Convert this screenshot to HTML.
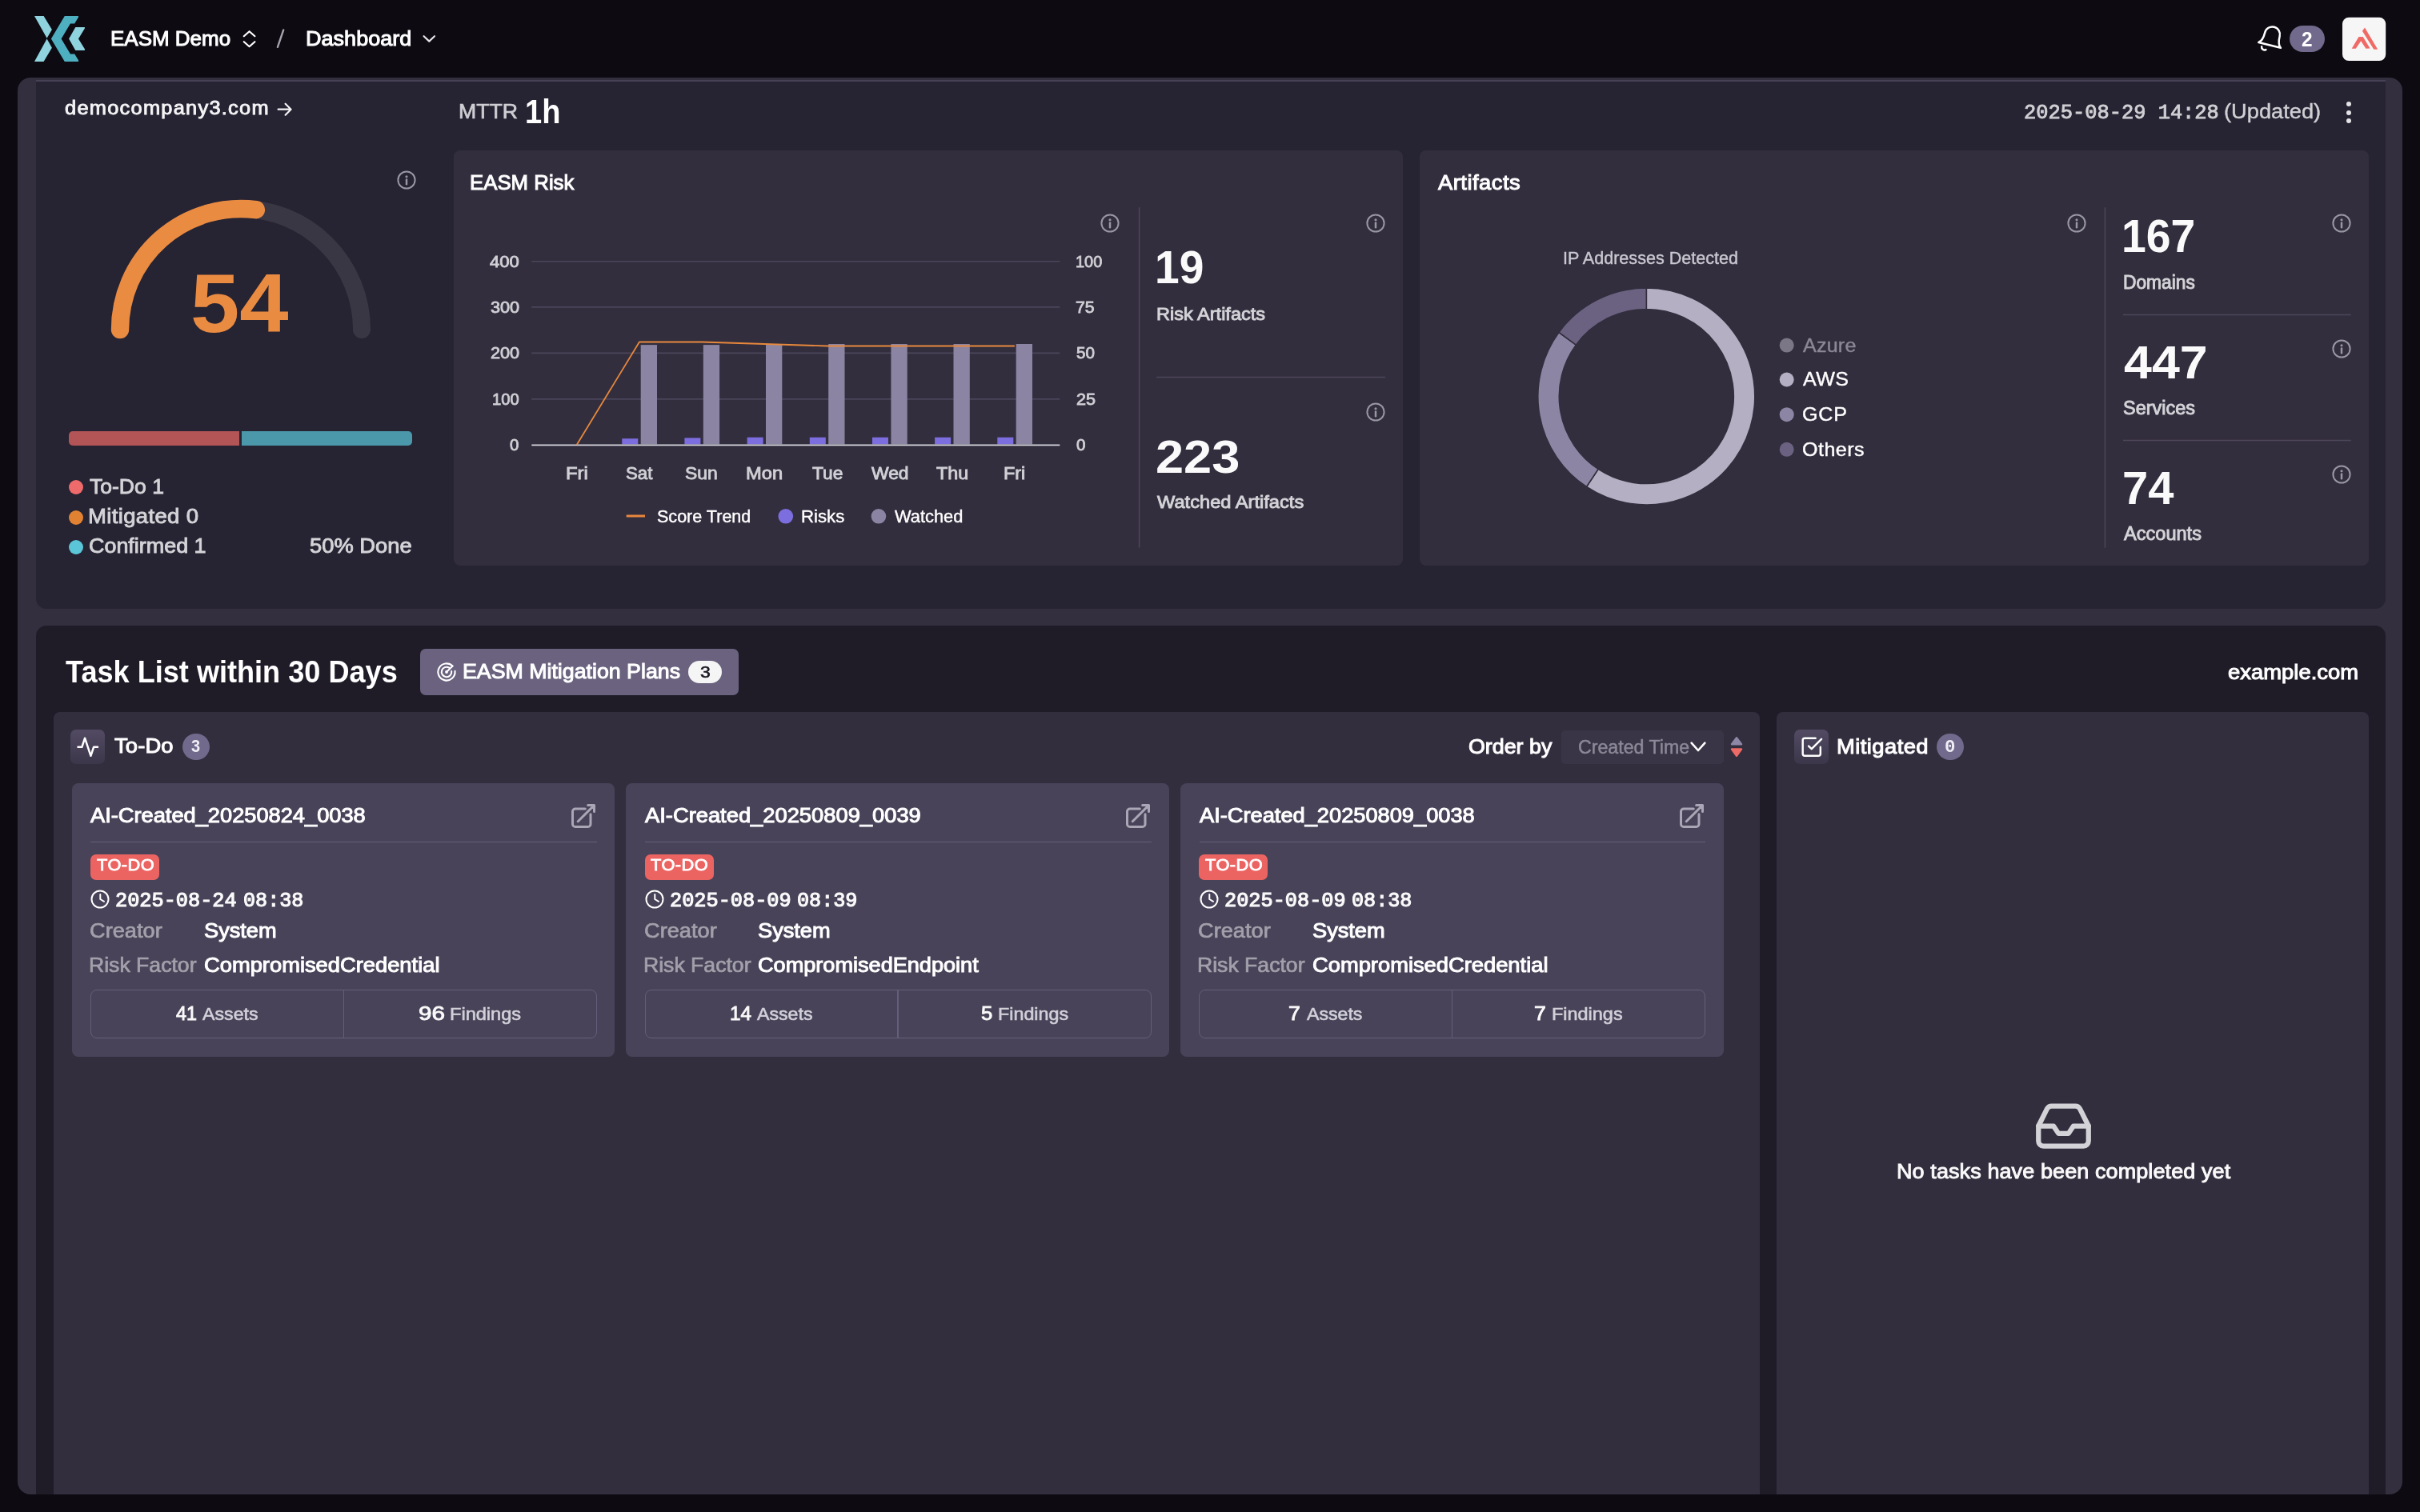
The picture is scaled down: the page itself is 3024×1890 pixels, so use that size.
<!DOCTYPE html>
<html lang="en"><head><meta charset="utf-8"><title>EASM Dashboard</title>
<style>
html,body{margin:0;padding:0;}
body{width:3024px;height:1890px;overflow:hidden;background:#0d0a12;position:relative;font-family:"Liberation Sans", sans-serif;}
.a{position:absolute;}
.t{position:absolute;white-space:nowrap;line-height:1;font-family:"Liberation Sans", sans-serif;}
svg{position:absolute;overflow:visible;}
</style></head><body>
<div class="a" style="left:22.00px;top:97.00px;width:2980.00px;height:1771.00px;background:#342f3e;border-radius:16px;"></div>
<div class="a" style="left:45.00px;top:100.00px;width:2936.00px;height:660.60px;background:#262332;border-radius:0 0 13px 13px;border-top:2px solid #464154;box-sizing:border-box;"></div>
<div class="a" style="left:45.00px;top:782.00px;width:2936.00px;height:1086.00px;background:#1f1c28;border-radius:13px 13px 0 0;"></div>
<div class="a" style="left:567.00px;top:188.00px;width:1186.20px;height:518.80px;background:#332e3e;border-radius:8px;"></div>
<div class="a" style="left:1773.90px;top:188.00px;width:1186.10px;height:518.80px;background:#332e3e;border-radius:8px;"></div>
<div class="a" style="left:66.70px;top:890.00px;width:2132.10px;height:978.00px;background:#332e3e;border-radius:8px 8px 0 0;"></div>
<div class="a" style="left:2220.00px;top:890.00px;width:740.00px;height:978.00px;background:#332e3e;border-radius:8px 8px 0 0;"></div>
<svg width="3024" height="100" style="left:0;top:0">
<polygon fill="#8ed3de" points="43.0,20.1 54.6,20.1 64.9,37.0 58.6,47.7"/>
<polygon fill="#8ed3de" points="58.6,48.6 64.9,59.7 54.6,76.9 43.0,76.9"/>
<polygon fill="#4eafc0" points="80.8,20.1 98.0,20.1 98.0,21.4 93.2,29.6 87.9,29.6 76.6,48.4 87.9,67.4 93.2,67.4 98.0,75.3 98.0,76.9 80.8,76.9 63.9,48.4"/>
<polygon fill="#8ed3de" points="94.3,34.1 105.9,34.1 105.9,35.4 98.0,48.4 105.9,61.3 105.9,62.9 94.3,62.9 86.1,48.4"/>
<path d="M304.8 45.2 L311.6 39.2 L318.4 45.2 M304.8 52.2 L311.6 58.2 L318.4 52.2" fill="none" stroke="#fff" stroke-width="2.2" stroke-linecap="round" stroke-linejoin="round"/>
<path d="M346.9 58.8 L354.2 37.5" stroke="#a3a1ab" stroke-width="2.4" stroke-linecap="round"/>
<path d="M529.6 45.2 L536.3 51.6 L543 45.2" fill="none" stroke="#e4e4e7" stroke-width="2.2" stroke-linecap="round" stroke-linejoin="round"/>
<g transform="translate(2836.1 56.4) rotate(14)" fill="none" stroke="#fff" stroke-width="2.5" stroke-linecap="round" stroke-linejoin="round"><path d="M-14.2 0 L14.2 0 C10.9 -2.4 9.5 -6.6 9.5 -13.9 A9.5 9.5 0 0 0 -9.5 -13.9 C-9.5 -6.6 -10.9 -2.4 -14.2 0 Z"/><path d="M-9.2 4.2 A3.6 3.6 0 0 0 -3.2 6.6"/></g>
<rect x="2927" y="21.8" width="54.2" height="54.3" rx="8" fill="#f6f6f6"/>
<polygon fill="#ef6a66" points="2951.9,38.7 2955.0,34.6 2971.2,61.7 2966.3,61.7"/>
<polygon fill="#ef6a66" points="2938.7,60.8 2947.5,46.0 2952.7,46.0 2961.6,60.4 2956.4,60.8 2950.2,51.2 2943.8,60.8"/>
</svg>
<div class="a" style="left:2861.00px;top:31.90px;width:44.10px;height:33.10px;background:#716a8c;border-radius:17px;"></div>
<svg width="40" height="30" style="left:340px;top:122px"><path d="M7.6 14.7 H23.4 M16.6 7.7 L23.6 14.7 L16.6 21.7" fill="none" stroke="#f4f4f5" stroke-width="2.2" stroke-linecap="round" stroke-linejoin="round"/></svg>
<div class="a" style="left:2932.00px;top:127.00px;width:6.00px;height:6.00px;background:#e4e4e7;border-radius:50%;"></div>
<div class="a" style="left:2932.00px;top:137.80px;width:6.00px;height:6.00px;background:#e4e4e7;border-radius:50%;"></div>
<div class="a" style="left:2932.00px;top:148.40px;width:6.00px;height:6.00px;background:#e4e4e7;border-radius:50%;"></div>
<svg width="560" height="300" style="left:0;top:200px" viewBox="0 200 560 300"><path d="M150 412 A151 151 0 0 1 452 412" fill="none" stroke="#3a3745" stroke-width="22" stroke-linecap="round"/><path d="M150 412 A151 151 0 0 1 319.93 262.19" fill="none" stroke="#ea8b42" stroke-width="22.4" stroke-linecap="round"/></svg>
<div class="a" style="left:85.80px;top:538.90px;width:213.30px;height:18.30px;background:#b35457;border-radius:5px 0 0 5px;"></div>
<div class="a" style="left:301.70px;top:538.90px;width:213.60px;height:18.30px;background:#4b98aa;border-radius:0 5px 5px 0;"></div>
<div class="a" style="left:86.00px;top:600.00px;width:18.00px;height:18.00px;background:#ef6b6b;border-radius:50%;"></div>
<div class="a" style="left:86.00px;top:637.80px;width:18.00px;height:18.00px;background:#e18233;border-radius:50%;"></div>
<div class="a" style="left:86.00px;top:675.10px;width:18.00px;height:18.00px;background:#5bc6d8;border-radius:50%;"></div>
<svg width="28" height="28" style="left:493.5px;top:210.5px" viewBox="-14 -14 28 28"><circle r="10.6" fill="none" stroke="#9997a4" stroke-width="2"/><circle cx="0" cy="-4.3" r="1.55" fill="#9997a4"/><path d="M0 -0.6 V5.3" stroke="#9997a4" stroke-width="2.5" stroke-linecap="round"/></svg>
<svg width="28" height="28" style="left:1373.0px;top:264.6px" viewBox="-14 -14 28 28"><circle r="10.6" fill="none" stroke="#9997a4" stroke-width="2"/><circle cx="0" cy="-4.3" r="1.55" fill="#9997a4"/><path d="M0 -0.6 V5.3" stroke="#9997a4" stroke-width="2.5" stroke-linecap="round"/></svg>
<svg width="28" height="28" style="left:1704.6px;top:264.6px" viewBox="-14 -14 28 28"><circle r="10.6" fill="none" stroke="#9997a4" stroke-width="2"/><circle cx="0" cy="-4.3" r="1.55" fill="#9997a4"/><path d="M0 -0.6 V5.3" stroke="#9997a4" stroke-width="2.5" stroke-linecap="round"/></svg>
<svg width="28" height="28" style="left:1704.6px;top:500.6px" viewBox="-14 -14 28 28"><circle r="10.6" fill="none" stroke="#9997a4" stroke-width="2"/><circle cx="0" cy="-4.3" r="1.55" fill="#9997a4"/><path d="M0 -0.6 V5.3" stroke="#9997a4" stroke-width="2.5" stroke-linecap="round"/></svg>
<svg width="28" height="28" style="left:2580.5px;top:264.5px" viewBox="-14 -14 28 28"><circle r="10.6" fill="none" stroke="#9997a4" stroke-width="2"/><circle cx="0" cy="-4.3" r="1.55" fill="#9997a4"/><path d="M0 -0.6 V5.3" stroke="#9997a4" stroke-width="2.5" stroke-linecap="round"/></svg>
<svg width="28" height="28" style="left:2911.5px;top:264.5px" viewBox="-14 -14 28 28"><circle r="10.6" fill="none" stroke="#9997a4" stroke-width="2"/><circle cx="0" cy="-4.3" r="1.55" fill="#9997a4"/><path d="M0 -0.6 V5.3" stroke="#9997a4" stroke-width="2.5" stroke-linecap="round"/></svg>
<svg width="28" height="28" style="left:2911.5px;top:421.7px" viewBox="-14 -14 28 28"><circle r="10.6" fill="none" stroke="#9997a4" stroke-width="2"/><circle cx="0" cy="-4.3" r="1.55" fill="#9997a4"/><path d="M0 -0.6 V5.3" stroke="#9997a4" stroke-width="2.5" stroke-linecap="round"/></svg>
<svg width="28" height="28" style="left:2911.5px;top:578.9px" viewBox="-14 -14 28 28"><circle r="10.6" fill="none" stroke="#9997a4" stroke-width="2"/><circle cx="0" cy="-4.3" r="1.55" fill="#9997a4"/><path d="M0 -0.6 V5.3" stroke="#9997a4" stroke-width="2.5" stroke-linecap="round"/></svg>
<svg width="3024" height="760" style="left:0;top:0">
<path d="M664.3 326.8 H1324.3" stroke="#4a4559" stroke-width="1.6"/>
<path d="M664.3 383.9 H1324.3" stroke="#4a4559" stroke-width="1.6"/>
<path d="M664.3 441.4 H1324.3" stroke="#4a4559" stroke-width="1.6"/>
<path d="M664.3 498.9 H1324.3" stroke="#4a4559" stroke-width="1.6"/>
<rect x="777.3" y="548.2" width="20" height="7.2" fill="#7d6ee0"/>
<rect x="800.7" y="431.1" width="20.3" height="124.3" fill="#8c84a3"/>
<rect x="855.4" y="547.4" width="20" height="8.0" fill="#7d6ee0"/>
<rect x="878.8" y="431.1" width="20.3" height="124.3" fill="#8c84a3"/>
<rect x="933.6" y="546.7" width="20" height="8.7" fill="#7d6ee0"/>
<rect x="957.0" y="430" width="20.3" height="125.4" fill="#8c84a3"/>
<rect x="1011.8" y="546.7" width="20" height="8.7" fill="#7d6ee0"/>
<rect x="1035.2" y="430" width="20.3" height="125.4" fill="#8c84a3"/>
<rect x="1090.0" y="546.7" width="20" height="8.7" fill="#7d6ee0"/>
<rect x="1113.4" y="430" width="20.3" height="125.4" fill="#8c84a3"/>
<rect x="1168.1" y="546.7" width="20" height="8.7" fill="#7d6ee0"/>
<rect x="1191.5" y="430" width="20.3" height="125.4" fill="#8c84a3"/>
<rect x="1246.3" y="546.7" width="20" height="8.7" fill="#7d6ee0"/>
<rect x="1269.7" y="430" width="20.3" height="125.4" fill="#8c84a3"/>
<path d="M664.3 556.3 H1324.3" stroke="#d6d6db" stroke-width="1.7"/>
<path d="M720.7 556 L798.9 427.5 L877.0 427.5 L955.2 430 L1033.4 432.5 L1111.6 432.5 L1189.7 432.5 L1267.9 432.5" fill="none" stroke="#e8883c" stroke-width="1.8" stroke-linejoin="round"/>
<path d="M782.7 645 H806" stroke="#e8883c" stroke-width="3"/>
<circle cx="981.8" cy="645.3" r="9.3" fill="#7d6ee0"/><circle cx="1097.9" cy="645.3" r="9.3" fill="#8c84a3"/>
<path d="M1423.6 259.3 V684.6" stroke="#4b4659" stroke-width="1.5"/>
<path d="M1445 471.4 H1731" stroke="#4b4659" stroke-width="1.5"/>
<path d="M2630.4 259.3 V684.8" stroke="#4b4659" stroke-width="1.5"/>
<path d="M2653 393.6 H2937.8 M2653 550.4 H2937.8" stroke="#4b4659" stroke-width="1.5"/>
<path d="M2057.30 360.00 A135.5 135.5 0 1 1 1982.51 608.49 L1997.14 586.39 A109 109 0 1 0 2057.30 386.50 Z" fill="#b5afc3" stroke="#332e3e" stroke-width="1.6"/>
<path d="M1982.51 608.49 A135.5 135.5 0 0 1 1947.96 415.47 L1969.34 431.12 A109 109 0 0 0 1997.14 586.39 Z" fill="#8d85a4" stroke="#332e3e" stroke-width="1.6"/>
<path d="M1947.96 415.47 A135.5 135.5 0 0 1 2057.30 360.00 L2057.30 386.50 A109 109 0 0 0 1969.34 431.12 Z" fill="#6a6280" stroke="#332e3e" stroke-width="1.6"/>
<circle cx="2232.7" cy="431.6" r="9" fill="#7b7787"/>
<circle cx="2232.7" cy="474.5" r="9" fill="#b5afc3"/>
<circle cx="2232.7" cy="518.2" r="9" fill="#8d85a4"/>
<circle cx="2232.7" cy="561.8" r="9" fill="#6a6280"/>
</svg>
<div class="a" style="left:525.20px;top:811.30px;width:397.80px;height:57.30px;background:#6a627e;border-radius:7px;"></div>
<svg width="30" height="30" style="left:543.2px;top:824.5px" viewBox="-15 -15 30 30" fill="none" stroke="#fff" stroke-width="2.1" stroke-linecap="round"><path d="M7.5 -7.5 A10.6 10.6 0 1 0 10.54 -1.1"/><path d="M3.2 -5.4 A6.25 6.25 0 1 0 6.2 -0.9"/><circle r="1.9" fill="#fff" stroke="none"/><path d="M0 0 L7.5 -7.5"/></svg>
<div class="a" style="left:860.20px;top:826.00px;width:41.60px;height:28.10px;background:#f5f5f6;border-radius:14px;"></div>
<div class="a" style="left:88.10px;top:911.90px;width:43.00px;height:42.70px;background:#463f56;border-radius:7px;background:linear-gradient(180deg,#524b63 0%,#3c364a 100%);"></div>
<div class="a" style="left:2242.00px;top:911.90px;width:43.10px;height:42.90px;background:#463f56;border-radius:7px;background:linear-gradient(180deg,#524b63 0%,#3c364a 100%);"></div>
<svg width="29.5" height="29.5" style="left:94.85px;top:918.5px" viewBox="0 0 24 24" fill="none" stroke="#fff" stroke-width="2" stroke-linecap="round" stroke-linejoin="round"><polyline points="22 12 18 12 15 21 9 3 6 12 2 12"/></svg>
<svg width="29.5" height="29.5" style="left:2248.6px;top:919.2px" viewBox="0 0 24 24" fill="none" stroke="#fff" stroke-width="2" stroke-linecap="round" stroke-linejoin="round"><polyline points="9 11 12 14 22 4"/><path d="M21 12v7a2 2 0 0 1-2 2H5a2 2 0 0 1-2-2V5a2 2 0 0 1 2-2h11"/></svg>
<div class="a" style="left:227.80px;top:916.60px;width:34.20px;height:33.80px;background:#716a8c;border-radius:50%;"></div>
<div class="a" style="left:2420.30px;top:916.70px;width:33.50px;height:33.50px;background:#716a8c;border-radius:50%;"></div>
<div class="a" style="left:1951.10px;top:913.20px;width:202.90px;height:41.40px;background:#3a3546;border-radius:5px;"></div>
<svg width="80" height="50" style="left:2100px;top:905px" viewBox="2100 905 80 50"><path d="M2113.6 928.6 L2122 938 L2130.4 928.6" fill="none" stroke="#fff" stroke-width="2.6" stroke-linecap="round" stroke-linejoin="round"/><path d="M2170 922.3 L2176 930.2 H2164 Z" fill="#8e87a6" stroke="#8e87a6" stroke-width="2.4" stroke-linejoin="round"/><path d="M2170 944.7 L2176 936.5 H2164 Z" fill="#ee6a66" stroke="#ee6a66" stroke-width="2.4" stroke-linejoin="round"/></svg>
<div class="a" style="left:89.80px;top:978.80px;width:678.60px;height:342.00px;background:#484358;border-radius:8px;"></div>
<div class="a" style="left:113.30px;top:1051.80px;width:632.70px;height:1.50px;background:#645d7b;"></div>
<div class="a" style="left:113.00px;top:1068.10px;width:85.90px;height:31.80px;background:#ec6462;border-radius:7px;"></div>
<svg width="36" height="36" style="left:711.00px;top:1002px" viewBox="0 0 24 24" fill="none" stroke="#aaa6b5" stroke-width="2" stroke-linecap="round" stroke-linejoin="round"><path d="M13.5 6H5.25A2.25 2.25 0 003 8.25v10.5A2.25 2.25 0 005.25 21h10.5A2.25 2.25 0 0018 18.75V10.5m-10.5 6L21 3m0 0h-5.25M21 3v5.25"/></svg>
<svg width="28" height="28" style="left:111.40px;top:1109.5px" viewBox="-14 -14 28 28" fill="none" stroke="#fff" stroke-width="2" stroke-linecap="round" stroke-linejoin="round"><circle r="10.5"/><path d="M0.3 -6 V0 L5 2.8"/></svg>
<div class="a" style="left:113.00px;top:1237.3px;width:632.9px;height:60.4px;box-sizing:border-box;border:1.5px solid #645d7b;border-radius:8px"></div>
<div class="a" style="left:428.60px;top:1237.30px;width:1.50px;height:60.40px;background:#645d7b;"></div>
<div class="a" style="left:782.45px;top:978.80px;width:678.60px;height:342.00px;background:#484358;border-radius:8px;"></div>
<div class="a" style="left:805.95px;top:1051.80px;width:632.70px;height:1.50px;background:#645d7b;"></div>
<div class="a" style="left:805.65px;top:1068.10px;width:85.90px;height:31.80px;background:#ec6462;border-radius:7px;"></div>
<svg width="36" height="36" style="left:1403.65px;top:1002px" viewBox="0 0 24 24" fill="none" stroke="#aaa6b5" stroke-width="2" stroke-linecap="round" stroke-linejoin="round"><path d="M13.5 6H5.25A2.25 2.25 0 003 8.25v10.5A2.25 2.25 0 005.25 21h10.5A2.25 2.25 0 0018 18.75V10.5m-10.5 6L21 3m0 0h-5.25M21 3v5.25"/></svg>
<svg width="28" height="28" style="left:804.05px;top:1109.5px" viewBox="-14 -14 28 28" fill="none" stroke="#fff" stroke-width="2" stroke-linecap="round" stroke-linejoin="round"><circle r="10.5"/><path d="M0.3 -6 V0 L5 2.8"/></svg>
<div class="a" style="left:805.65px;top:1237.3px;width:632.9px;height:60.4px;box-sizing:border-box;border:1.5px solid #645d7b;border-radius:8px"></div>
<div class="a" style="left:1121.25px;top:1237.30px;width:1.50px;height:60.40px;background:#645d7b;"></div>
<div class="a" style="left:1475.10px;top:978.80px;width:678.60px;height:342.00px;background:#484358;border-radius:8px;"></div>
<div class="a" style="left:1498.60px;top:1051.80px;width:632.70px;height:1.50px;background:#645d7b;"></div>
<div class="a" style="left:1498.30px;top:1068.10px;width:85.90px;height:31.80px;background:#ec6462;border-radius:7px;"></div>
<svg width="36" height="36" style="left:2096.30px;top:1002px" viewBox="0 0 24 24" fill="none" stroke="#aaa6b5" stroke-width="2" stroke-linecap="round" stroke-linejoin="round"><path d="M13.5 6H5.25A2.25 2.25 0 003 8.25v10.5A2.25 2.25 0 005.25 21h10.5A2.25 2.25 0 0018 18.75V10.5m-10.5 6L21 3m0 0h-5.25M21 3v5.25"/></svg>
<svg width="28" height="28" style="left:1496.70px;top:1109.5px" viewBox="-14 -14 28 28" fill="none" stroke="#fff" stroke-width="2" stroke-linecap="round" stroke-linejoin="round"><circle r="10.5"/><path d="M0.3 -6 V0 L5 2.8"/></svg>
<div class="a" style="left:1498.30px;top:1237.3px;width:632.9px;height:60.4px;box-sizing:border-box;border:1.5px solid #645d7b;border-radius:8px"></div>
<div class="a" style="left:1813.90px;top:1237.30px;width:1.50px;height:60.40px;background:#645d7b;"></div>
<svg width="75" height="75" style="left:2541.1px;top:1369.8px" viewBox="0 0 24 24" fill="none" stroke="#d2d2d7" stroke-width="2" stroke-linecap="round" stroke-linejoin="round"><polyline points="22 12 16 12 14 15 10 15 8 12 2 12"/><path d="M5.45 5.11 2 12v6a2 2 0 0 0 2 2h16a2 2 0 0 0 2-2v-6l-3.45-6.89A2 2 0 0 0 16.76 4H7.24a2 2 0 0 0-1.79 1.11z"/></svg>
<div class="a" style="left:0;top:0;width:3024px;height:1890px;will-change:transform">
<div class="t" style="left:137.57px;top:35.80px;font-size:25.57px;color:#ffffff;-webkit-text-stroke:1.0px #ffffff;transform:scaleX(1.0164);transform-origin:0 0;">EASM Demo</div>
<div class="t" style="left:381.58px;top:35.80px;font-size:25.57px;color:#ffffff;-webkit-text-stroke:1.0px #ffffff;transform:scaleX(1.0580);transform-origin:0 0;">Dashboard</div>
<div class="t" style="left:2876.40px;top:35.90px;font-size:26.5px;color:#ffffff;font-weight:700;transform:scaleX(0.9214);transform-origin:0 0;">2</div>
<div class="t" style="left:80.68px;top:123.95px;font-size:23.71px;color:#f4f4f5;-webkit-text-stroke:0.9px #f4f4f5;letter-spacing:1.193px;transform:scaleX(1.0700);transform-origin:0 0;">democompany3.com</div>
<div class="t" style="left:573.32px;top:127.25px;font-size:25.0px;color:#cdcdd2;-webkit-text-stroke:0.7px #cdcdd2;transform:scaleX(1.0653);transform-origin:0 0;">MTTR</div>
<div class="t" style="left:656.39px;top:119.40px;font-size:42.0px;color:#ffffff;font-weight:700;transform:scaleX(0.9061);transform-origin:0 0;">1h</div>
<div class="t" style="left:2529.08px;top:127.85px;font-size:26.21px;color:#d0d0d4;font-family:'Liberation Mono',monospace;-webkit-text-stroke:0.9px #d0d0d4;transform:scaleX(0.9692);transform-origin:0 0;">2025-08-29 14:28</div>
<div class="t" style="left:2778.83px;top:127.10px;font-size:25.93px;color:#d0d0d4;-webkit-text-stroke:0.4px #d0d0d4;transform:scaleX(1.0514);transform-origin:0 0;">(Updated)</div>
<div class="t" style="left:237.79px;top:328.30px;font-size:103.0px;color:#ea8b42;font-weight:700;transform:scaleX(1.0693);transform-origin:0 0;">54</div>
<div class="t" style="left:112.05px;top:595.55px;font-size:25.71px;color:#d4d4d8;-webkit-text-stroke:0.9px #d4d4d8;transform:scaleX(1.0323);transform-origin:0 0;">To-Do 1</div>
<div class="t" style="left:109.91px;top:633.25px;font-size:25.71px;color:#d4d4d8;-webkit-text-stroke:0.9px #d4d4d8;letter-spacing:0.320px;transform:scaleX(1.0700);transform-origin:0 0;">Mitigated 0</div>
<div class="t" style="left:111.00px;top:670.45px;font-size:25.71px;color:#d4d4d8;-webkit-text-stroke:0.9px #d4d4d8;transform:scaleX(1.0468);transform-origin:0 0;">Confirmed 1</div>
<div class="t" style="left:386.99px;top:670.45px;font-size:25.71px;color:#d4d4d8;-webkit-text-stroke:0.9px #d4d4d8;transform:scaleX(1.0629);transform-origin:0 0;">50% Done</div>
<div class="t" style="left:586.68px;top:215.60px;font-size:25.57px;color:#ffffff;-webkit-text-stroke:1.0px #ffffff;transform:scaleX(1.0089);transform-origin:0 0;">EASM Risk</div>
<div class="t" style="left:611.80px;top:317.60px;font-size:19.36px;color:#cfcfd4;-webkit-text-stroke:0.8px #cfcfd4;transform:scaleX(1.1404);transform-origin:0 0;">400</div>
<div class="t" style="left:612.50px;top:374.70px;font-size:19.36px;color:#cfcfd4;-webkit-text-stroke:0.8px #cfcfd4;transform:scaleX(1.1188);transform-origin:0 0;">300</div>
<div class="t" style="left:612.50px;top:432.20px;font-size:19.36px;color:#cfcfd4;-webkit-text-stroke:0.8px #cfcfd4;transform:scaleX(1.1188);transform-origin:0 0;">200</div>
<div class="t" style="left:614.96px;top:489.70px;font-size:19.36px;color:#cfcfd4;-webkit-text-stroke:0.8px #cfcfd4;transform:scaleX(1.0433);transform-origin:0 0;">100</div>
<div class="t" style="left:637.30px;top:546.90px;font-size:19.36px;color:#cfcfd4;-webkit-text-stroke:0.8px #cfcfd4;transform:scaleX(1.0545);transform-origin:0 0;">0</div>
<div class="t" style="left:1343.97px;top:317.60px;font-size:19.36px;color:#cfcfd4;-webkit-text-stroke:0.8px #cfcfd4;transform:scaleX(1.0275);transform-origin:0 0;">100</div>
<div class="t" style="left:1343.90px;top:374.70px;font-size:19.36px;color:#cfcfd4;-webkit-text-stroke:0.8px #cfcfd4;transform:scaleX(1.0978);transform-origin:0 0;">75</div>
<div class="t" style="left:1345.00px;top:432.20px;font-size:19.36px;color:#cfcfd4;-webkit-text-stroke:0.8px #cfcfd4;transform:scaleX(1.0658);transform-origin:0 0;">50</div>
<div class="t" style="left:1345.00px;top:489.70px;font-size:19.36px;color:#cfcfd4;-webkit-text-stroke:0.8px #cfcfd4;transform:scaleX(1.1172);transform-origin:0 0;">25</div>
<div class="t" style="left:1345.00px;top:546.90px;font-size:19.36px;color:#cfcfd4;-webkit-text-stroke:0.8px #cfcfd4;transform:scaleX(1.0636);transform-origin:0 0;">0</div>
<div class="t" style="left:707.10px;top:580.45px;font-size:22.71px;color:#d0d0d5;-webkit-text-stroke:0.9px #d0d0d5;transform:scaleX(1.0521);transform-origin:0 0;">Fri</div>
<div class="t" style="left:781.77px;top:580.45px;font-size:22.71px;color:#d0d0d5;-webkit-text-stroke:0.9px #d0d0d5;transform:scaleX(0.9772);transform-origin:0 0;">Sat</div>
<div class="t" style="left:856.34px;top:580.45px;font-size:22.71px;color:#d0d0d5;-webkit-text-stroke:0.9px #d0d0d5;transform:scaleX(1.0085);transform-origin:0 0;">Sun</div>
<div class="t" style="left:932.21px;top:580.45px;font-size:22.71px;color:#d0d0d5;-webkit-text-stroke:0.9px #d0d0d5;transform:scaleX(1.0438);transform-origin:0 0;">Mon</div>
<div class="t" style="left:1014.65px;top:580.45px;font-size:22.71px;color:#d0d0d5;-webkit-text-stroke:0.9px #d0d0d5;transform:scaleX(1.0013);transform-origin:0 0;">Tue</div>
<div class="t" style="left:1088.65px;top:580.45px;font-size:22.71px;color:#d0d0d5;-webkit-text-stroke:0.9px #d0d0d5;transform:scaleX(1.0056);transform-origin:0 0;">Wed</div>
<div class="t" style="left:1170.05px;top:580.45px;font-size:22.71px;color:#d0d0d5;-webkit-text-stroke:0.9px #d0d0d5;transform:scaleX(1.0261);transform-origin:0 0;">Thu</div>
<div class="t" style="left:1254.42px;top:580.45px;font-size:22.71px;color:#d0d0d5;-webkit-text-stroke:0.9px #d0d0d5;transform:scaleX(1.0316);transform-origin:0 0;">Fri</div>
<div class="t" style="left:821.48px;top:636.00px;font-size:21.43px;color:#ffffff;-webkit-text-stroke:0.4px #ffffff;transform:scaleX(1.0053);transform-origin:0 0;">Score Trend</div>
<div class="t" style="left:1000.84px;top:636.00px;font-size:21.43px;color:#ffffff;-webkit-text-stroke:0.4px #ffffff;transform:scaleX(1.0361);transform-origin:0 0;">Risks</div>
<div class="t" style="left:1117.78px;top:636.00px;font-size:21.43px;color:#ffffff;-webkit-text-stroke:0.4px #ffffff;transform:scaleX(1.0187);transform-origin:0 0;">Watched</div>
<div class="t" style="left:1443.13px;top:306.30px;font-size:57.7px;color:#fafafa;font-weight:700;transform:scaleX(0.9563);transform-origin:0 0;">19</div>
<div class="t" style="left:1445.01px;top:380.95px;font-size:22.71px;color:#d4d4d8;-webkit-text-stroke:0.9px #d4d4d8;transform:scaleX(1.0374);transform-origin:0 0;">Risk Artifacts</div>
<div class="t" style="left:1443.81px;top:542.70px;font-size:57.7px;color:#fafafa;font-weight:700;transform:scaleX(1.0937);transform-origin:0 0;">223</div>
<div class="t" style="left:1446.05px;top:615.95px;font-size:22.71px;color:#d4d4d8;-webkit-text-stroke:0.9px #d4d4d8;transform:scaleX(1.0424);transform-origin:0 0;">Watched Artifacts</div>
<div class="t" style="left:1796.50px;top:216.00px;font-size:25.57px;color:#ffffff;-webkit-text-stroke:1.0px #ffffff;letter-spacing:0.461px;transform:scaleX(1.0700);transform-origin:0 0;">Artifacts</div>
<div class="t" style="left:1953.37px;top:312.60px;font-size:21.43px;color:#c9c8d0;-webkit-text-stroke:0.4px #c9c8d0;transform:scaleX(1.0069);transform-origin:0 0;">IP Addresses Detected</div>
<div class="t" style="left:2252.58px;top:420.80px;font-size:23.43px;color:#8b8895;-webkit-text-stroke:0.4px #8b8895;letter-spacing:0.213px;transform:scaleX(1.0700);transform-origin:0 0;">Azure</div>
<div class="t" style="left:2252.58px;top:463.30px;font-size:23.43px;color:#ffffff;-webkit-text-stroke:0.4px #ffffff;letter-spacing:0.323px;transform:scaleX(1.0700);transform-origin:0 0;">AWS</div>
<div class="t" style="left:2251.51px;top:507.30px;font-size:23.43px;color:#ffffff;-webkit-text-stroke:0.4px #ffffff;letter-spacing:0.798px;transform:scaleX(1.0700);transform-origin:0 0;">GCP</div>
<div class="t" style="left:2251.51px;top:550.60px;font-size:23.43px;color:#ffffff;-webkit-text-stroke:0.4px #ffffff;letter-spacing:0.449px;transform:scaleX(1.0700);transform-origin:0 0;">Others</div>
<div class="t" style="left:2650.72px;top:267.00px;font-size:57.7px;color:#fafafa;font-weight:700;transform:scaleX(0.9587);transform-origin:0 0;">167</div>
<div class="t" style="left:2652.67px;top:341.95px;font-size:23.21px;color:#d4d4d8;-webkit-text-stroke:0.9px #d4d4d8;transform:scaleX(0.9816);transform-origin:0 0;">Domains</div>
<div class="t" style="left:2653.60px;top:424.60px;font-size:57.7px;color:#fafafa;font-weight:700;transform:scaleX(1.0874);transform-origin:0 0;">447</div>
<div class="t" style="left:2652.64px;top:499.15px;font-size:23.21px;color:#d4d4d8;-webkit-text-stroke:0.9px #d4d4d8;transform:scaleX(1.0106);transform-origin:0 0;">Services</div>
<div class="t" style="left:2651.59px;top:581.80px;font-size:57.7px;color:#fafafa;font-weight:700;transform:scaleX(1.0035);transform-origin:0 0;">74</div>
<div class="t" style="left:2653.65px;top:655.55px;font-size:23.21px;color:#d4d4d8;-webkit-text-stroke:0.9px #d4d4d8;transform:scaleX(1.0154);transform-origin:0 0;">Accounts</div>
<div class="t" style="left:81.90px;top:820.10px;font-size:39.0px;color:#ffffff;font-weight:700;transform:scaleX(0.9259);transform-origin:0 0;">Task List within 30 Days</div>
<div class="t" style="left:577.51px;top:826.70px;font-size:25.57px;color:#ffffff;-webkit-text-stroke:1.0px #ffffff;transform:scaleX(1.0462);transform-origin:0 0;">EASM Mitigation Plans</div>
<div class="t" style="left:874.80px;top:830.90px;font-size:19.44px;color:#1b1823;-webkit-text-stroke:0.6px #1b1823;transform:scaleX(1.1800);transform-origin:0 0;">3</div>
<div class="t" style="left:2783.53px;top:827.50px;font-size:25.57px;color:#ffffff;-webkit-text-stroke:1.0px #ffffff;letter-spacing:0.037px;transform:scaleX(1.0700);transform-origin:0 0;">example.com</div>
<div class="t" style="left:143.30px;top:920.40px;font-size:25.57px;color:#ffffff;-webkit-text-stroke:1.0px #ffffff;letter-spacing:0.134px;transform:scaleX(1.0700);transform-origin:0 0;">To-Do</div>
<div class="t" style="left:239.20px;top:922.20px;font-size:22.0px;color:#f0eef5;font-weight:700;transform:scaleX(0.9083);transform-origin:0 0;">3</div>
<div class="t" style="left:1834.85px;top:921.00px;font-size:25.57px;color:#ffffff;-webkit-text-stroke:1.0px #ffffff;transform:scaleX(1.0491);transform-origin:0 0;">Order by</div>
<div class="t" style="left:1971.59px;top:921.75px;font-size:24.29px;color:#8b8898;-webkit-text-stroke:0.5px #8b8898;transform:scaleX(0.9552);transform-origin:0 0;">Created Time</div>
<div class="t" style="left:2294.76px;top:921.30px;font-size:25.57px;color:#ffffff;-webkit-text-stroke:1.0px #ffffff;letter-spacing:0.416px;transform:scaleX(1.0700);transform-origin:0 0;">Mitigated</div>
<div class="t" style="left:2430.08px;top:924.30px;font-size:22.0px;color:#f0eef5;font-weight:700;font-family:'Liberation Mono',monospace;transform:scaleX(1.0182);transform-origin:0 0;">0</div>
<div class="t" style="left:2369.81px;top:1451.75px;font-size:25.21px;color:#fafafa;-webkit-text-stroke:0.9px #fafafa;letter-spacing:0.103px;transform:scaleX(1.0700);transform-origin:0 0;">No tasks have been completed yet</div>
<div class="t" style="left:113.40px;top:1006.90px;font-size:25.57px;color:#ffffff;-webkit-text-stroke:1.0px #ffffff;transform:scaleX(1.0654);transform-origin:0 0;">AI-Created_20250824_0038</div>
<div class="t" style="left:120.50px;top:1071.40px;font-size:20.36px;color:#ffffff;-webkit-text-stroke:0.8px #ffffff;letter-spacing:0.469px;transform:scaleX(1.0700);transform-origin:0 0;">TO-DO</div>
<div class="t" style="left:144.36px;top:1113.55px;font-size:25.43px;color:#fafafa;font-family:'Liberation Mono',monospace;-webkit-text-stroke:1.1px #fafafa;transform:scaleX(0.9940);transform-origin:0 0;">2025-08-24</div>
<div class="t" style="left:303.66px;top:1113.55px;font-size:25.43px;color:#fafafa;font-family:'Liberation Mono',monospace;-webkit-text-stroke:1.1px #fafafa;transform:scaleX(0.9889);transform-origin:0 0;">08:38</div>
<div class="t" style="left:111.90px;top:1149.65px;font-size:26.0px;color:#a3a0ab;-webkit-text-stroke:0.7px #a3a0ab;transform:scaleX(1.0460);transform-origin:0 0;">Creator</div>
<div class="t" style="left:254.54px;top:1150.50px;font-size:25.57px;color:#ffffff;-webkit-text-stroke:1.0px #ffffff;transform:scaleX(1.0635);transform-origin:0 0;">System</div>
<div class="t" style="left:110.90px;top:1192.65px;font-size:26.0px;color:#a3a0ab;-webkit-text-stroke:0.7px #a3a0ab;transform:scaleX(1.0231);transform-origin:0 0;">Risk Factor</div>
<div class="t" style="left:254.53px;top:1193.50px;font-size:25.57px;color:#ffffff;-webkit-text-stroke:1.0px #ffffff;transform:scaleX(1.0684);transform-origin:0 0;">CompromisedCredential</div>
<div class="t" style="left:219.85px;top:1254.55px;font-size:24.21px;color:#fafafa;-webkit-text-stroke:0.9px #fafafa;transform:scaleX(0.9637);transform-origin:0 0;">41</div>
<div class="t" style="left:253.40px;top:1256.70px;font-size:22.14px;color:#d2d0d9;-webkit-text-stroke:0.6px #d2d0d9;transform:scaleX(1.0477);transform-origin:0 0;">Assets</div>
<div class="t" style="left:523.02px;top:1254.55px;font-size:24.21px;color:#fafafa;-webkit-text-stroke:0.9px #fafafa;transform:scaleX(1.2254);transform-origin:0 0;">96</div>
<div class="t" style="left:561.73px;top:1256.70px;font-size:22.14px;color:#d2d0d9;-webkit-text-stroke:0.6px #d2d0d9;transform:scaleX(1.0658);transform-origin:0 0;">Findings</div>
<div class="t" style="left:806.05px;top:1006.90px;font-size:25.57px;color:#ffffff;-webkit-text-stroke:1.0px #ffffff;transform:scaleX(1.0687);transform-origin:0 0;">AI-Created_20250809_0039</div>
<div class="t" style="left:813.15px;top:1071.40px;font-size:20.36px;color:#ffffff;-webkit-text-stroke:0.8px #ffffff;letter-spacing:0.469px;transform:scaleX(1.0700);transform-origin:0 0;">TO-DO</div>
<div class="t" style="left:837.01px;top:1113.55px;font-size:25.43px;color:#fafafa;font-family:'Liberation Mono',monospace;-webkit-text-stroke:1.1px #fafafa;transform:scaleX(0.9940);transform-origin:0 0;">2025-08-09</div>
<div class="t" style="left:996.31px;top:1113.55px;font-size:25.43px;color:#fafafa;font-family:'Liberation Mono',monospace;-webkit-text-stroke:1.1px #fafafa;transform:scaleX(0.9889);transform-origin:0 0;">08:39</div>
<div class="t" style="left:804.55px;top:1149.65px;font-size:26.0px;color:#a3a0ab;-webkit-text-stroke:0.7px #a3a0ab;transform:scaleX(1.0460);transform-origin:0 0;">Creator</div>
<div class="t" style="left:947.19px;top:1150.50px;font-size:25.57px;color:#ffffff;-webkit-text-stroke:1.0px #ffffff;transform:scaleX(1.0635);transform-origin:0 0;">System</div>
<div class="t" style="left:803.55px;top:1192.65px;font-size:26.0px;color:#a3a0ab;-webkit-text-stroke:0.7px #a3a0ab;transform:scaleX(1.0231);transform-origin:0 0;">Risk Factor</div>
<div class="t" style="left:947.19px;top:1193.50px;font-size:25.57px;color:#ffffff;-webkit-text-stroke:1.0px #ffffff;transform:scaleX(1.0604);transform-origin:0 0;">CompromisedEndpoint</div>
<div class="t" style="left:911.55px;top:1254.55px;font-size:24.21px;color:#fafafa;-webkit-text-stroke:0.9px #fafafa;transform:scaleX(0.9976);transform-origin:0 0;">14</div>
<div class="t" style="left:946.20px;top:1256.70px;font-size:22.14px;color:#d2d0d9;-webkit-text-stroke:0.6px #d2d0d9;transform:scaleX(1.0462);transform-origin:0 0;">Assets</div>
<div class="t" style="left:1225.55px;top:1254.55px;font-size:24.21px;color:#fafafa;-webkit-text-stroke:0.9px #fafafa;transform:scaleX(1.0615);transform-origin:0 0;">5</div>
<div class="t" style="left:1246.85px;top:1256.70px;font-size:22.14px;color:#d2d0d9;-webkit-text-stroke:0.6px #d2d0d9;transform:scaleX(1.0537);transform-origin:0 0;">Findings</div>
<div class="t" style="left:1498.70px;top:1006.90px;font-size:25.57px;color:#ffffff;-webkit-text-stroke:1.0px #ffffff;transform:scaleX(1.0654);transform-origin:0 0;">AI-Created_20250809_0038</div>
<div class="t" style="left:1505.80px;top:1071.40px;font-size:20.36px;color:#ffffff;-webkit-text-stroke:0.8px #ffffff;letter-spacing:0.469px;transform:scaleX(1.0700);transform-origin:0 0;">TO-DO</div>
<div class="t" style="left:1529.66px;top:1113.55px;font-size:25.43px;color:#fafafa;font-family:'Liberation Mono',monospace;-webkit-text-stroke:1.1px #fafafa;transform:scaleX(0.9940);transform-origin:0 0;">2025-08-09</div>
<div class="t" style="left:1688.96px;top:1113.55px;font-size:25.43px;color:#fafafa;font-family:'Liberation Mono',monospace;-webkit-text-stroke:1.1px #fafafa;transform:scaleX(0.9889);transform-origin:0 0;">08:38</div>
<div class="t" style="left:1497.20px;top:1149.65px;font-size:26.0px;color:#a3a0ab;-webkit-text-stroke:0.7px #a3a0ab;transform:scaleX(1.0460);transform-origin:0 0;">Creator</div>
<div class="t" style="left:1639.84px;top:1150.50px;font-size:25.57px;color:#ffffff;-webkit-text-stroke:1.0px #ffffff;transform:scaleX(1.0635);transform-origin:0 0;">System</div>
<div class="t" style="left:1496.20px;top:1192.65px;font-size:26.0px;color:#a3a0ab;-webkit-text-stroke:0.7px #a3a0ab;transform:scaleX(1.0231);transform-origin:0 0;">Risk Factor</div>
<div class="t" style="left:1639.83px;top:1193.50px;font-size:25.57px;color:#ffffff;-webkit-text-stroke:1.0px #ffffff;transform:scaleX(1.0684);transform-origin:0 0;">CompromisedCredential</div>
<div class="t" style="left:1610.15px;top:1254.55px;font-size:24.21px;color:#fafafa;-webkit-text-stroke:0.9px #fafafa;transform:scaleX(1.1000);transform-origin:0 0;">7</div>
<div class="t" style="left:1633.10px;top:1256.70px;font-size:22.14px;color:#d2d0d9;-webkit-text-stroke:0.6px #d2d0d9;transform:scaleX(1.0447);transform-origin:0 0;">Assets</div>
<div class="t" style="left:1916.95px;top:1254.55px;font-size:24.21px;color:#fafafa;-webkit-text-stroke:0.9px #fafafa;transform:scaleX(1.1000);transform-origin:0 0;">7</div>
<div class="t" style="left:1938.84px;top:1256.70px;font-size:22.14px;color:#d2d0d9;-webkit-text-stroke:0.6px #d2d0d9;transform:scaleX(1.0598);transform-origin:0 0;">Findings</div>
</div>
</body></html>
